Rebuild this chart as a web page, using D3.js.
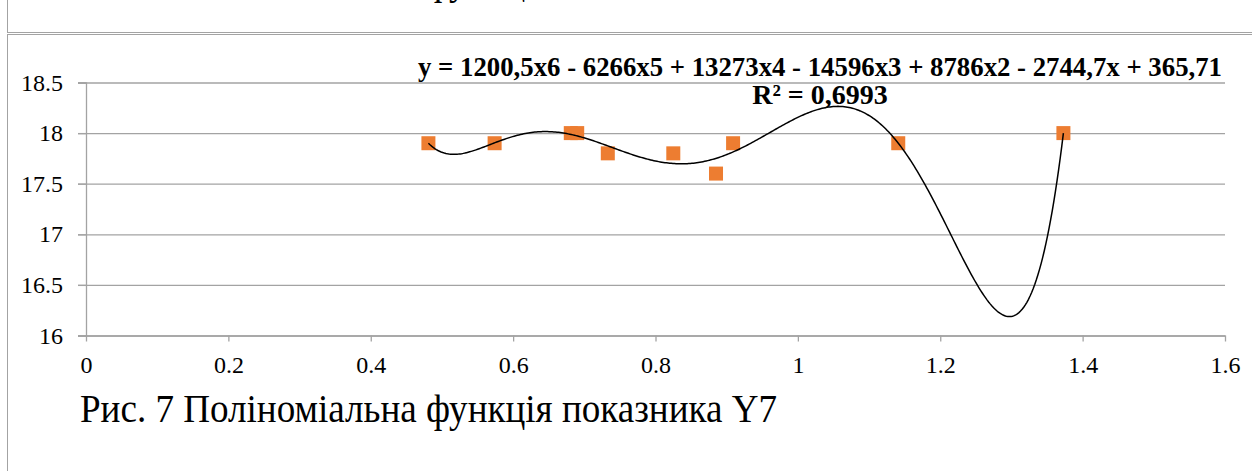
<!DOCTYPE html>
<html>
<head>
<meta charset="utf-8">
<script src="https://cdn.jsdelivr.net/npm/d3@7"></script>
<style>
  html, body { margin: 0; padding: 0; background: #fff; }
  svg { display: block; }
  text { font-family: "Liberation Serif", "Times New Roman", Tinos, "DejaVu Serif", serif; fill: #000; }
</style>
</head>
<body>
<svg id="chart" width="1252" height="471"></svg>
<script>
// Observed values of indicator Y7
const xValues = [0.481, 0.574, 0.681, 0.690, 0.733, 0.825, 0.885, 0.909, 1.141, 1.373];
const yValues = [17.9, 17.9, 18.0, 18.0, 17.8, 17.8, 17.6, 17.9, 17.9, 18.0];

// Axis ticks
const xTicks = [0, 0.2, 0.4, 0.6, 0.8, 1, 1.2, 1.4, 1.6];
const yTicks = [16, 16.5, 17, 17.5, 18, 18.5];

// Texts
const equationText = "y = 1200,5x6 - 6266x5 + 13273x4 - 14596x3 + 8786x2 - 2744,7x + 365,71";
const r2Text = "R² = 0,6993";
const captionText = "Рис. 7 Поліноміальна функція показника Y7";
const prevCaptionText = "Рис. 6 Поліноміальна функція показника Y6";

const polyDegree = 6;
const serif = '"Liberation Serif", "Times New Roman", Tinos, "DejaVu Serif", serif';

const svg = d3.select("#chart");
const gridColor = "#a3a3a3";

const x = d3.scaleLinear().domain([0, 1.6]).range([86, 1225]);
const y = d3.scaleLinear().domain([16, 18.5]).range([335.5, 82.5]);

// Table cell borders around the figure
svg.append("text")
  .attr("x", 80).attr("y", -6)
  .attr("font-size", 40)
  .attr("textLength", 697).attr("lengthAdjust", "spacingAndGlyphs")
  .text(prevCaptionText);
svg.append("line").attr("x1", 7).attr("x2", 1252).attr("y1", 32.5).attr("y2", 32.5)
  .attr("stroke", gridColor).attr("stroke-width", 1);
svg.append("line").attr("x1", 7).attr("x2", 1252).attr("y1", 34.5).attr("y2", 34.5)
  .attr("stroke", gridColor).attr("stroke-width", 1);
svg.append("line").attr("x1", 7.5).attr("x2", 7.5).attr("y1", 0).attr("y2", 32.5)
  .attr("stroke", gridColor).attr("stroke-width", 1);
svg.append("line").attr("x1", 7.5).attr("x2", 7.5).attr("y1", 34.5).attr("y2", 471)
  .attr("stroke", gridColor).attr("stroke-width", 1);

// Horizontal gridlines
const grid = svg.append("g")
  .attr("transform", `translate(78,0)`)
  .call(d3.axisRight(y).tickValues(yTicks).tickSize(x(1.6) - 78).tickFormat(""));
grid.select(".domain").remove();
grid.selectAll(".tick line").attr("stroke", gridColor).attr("stroke-width", 1.3);

// Y axis
const yAxis = svg.append("g")
  .attr("transform", `translate(${x(0)},0)`)
  .call(d3.axisLeft(y).tickValues(yTicks).tickSize(8).tickPadding(15).tickFormat(d3.format("")));
yAxis.attr("font-family", serif);
yAxis.select(".domain").attr("stroke", gridColor).attr("stroke-width", 1.3);
yAxis.selectAll(".tick line").attr("stroke", gridColor).attr("stroke-width", 1.3);
yAxis.selectAll(".tick text").attr("font-size", 24).style("font-family", serif).attr("fill", "#000");

// X axis
const xAxis = svg.append("g")
  .attr("transform", `translate(0,${y(16)})`)
  .call(d3.axisBottom(x).tickValues(xTicks).tickSizeInner(6).tickSizeOuter(0).tickPadding(14).tickFormat(d3.format("")));
xAxis.attr("font-family", serif);
xAxis.select(".domain").attr("stroke", gridColor).attr("stroke-width", 1.3);
xAxis.selectAll(".tick line").attr("stroke", gridColor).attr("stroke-width", 1.3);
xAxis.selectAll(".tick text").attr("font-size", 24).style("font-family", serif).attr("fill", "#000");

// Data markers
const pts = xValues.map((v, i) => ({ x: v, y: yValues[i] }));
const size = 14;
svg.append("g").selectAll("rect").data(pts).join("rect")
  .attr("x", d => x(d.x) - size / 2)
  .attr("y", d => y(d.y) - size / 2)
  .attr("width", size).attr("height", size)
  .attr("fill", "#ED7D31");

// Least-squares polynomial trendline (degree 6)
function polyFit(xs, ys, deg) {
  const c = d3.mean(xs), s = (d3.max(xs) - d3.min(xs)) / 2;
  const n = deg + 1;
  const A = Array.from({ length: n }, () => new Array(n + 1).fill(0));
  xs.forEach((xv, k) => {
    const t = (xv - c) / s;
    const p = [];
    for (let i = 0; i < n; i++) p.push(Math.pow(t, i));
    for (let i = 0; i < n; i++) {
      for (let j = 0; j < n; j++) A[i][j] += p[i] * p[j];
      A[i][n] += p[i] * ys[k];
    }
  });
  for (let col = 0; col < n; col++) {
    let piv = col;
    for (let r = col + 1; r < n; r++) if (Math.abs(A[r][col]) > Math.abs(A[piv][col])) piv = r;
    [A[col], A[piv]] = [A[piv], A[col]];
    for (let r = 0; r < n; r++) {
      if (r === col) continue;
      const f = A[r][col] / A[col][col];
      for (let j = col; j <= n; j++) A[r][j] -= f * A[col][j];
    }
  }
  const coef = A.map((row, i) => row[n] / row[i]);
  return xv => {
    const t = (xv - c) / s;
    let v = 0;
    for (let i = n - 1; i >= 0; i--) v = v * t + coef[i];
    return v;
  };
}
const fit = polyFit(xValues, yValues, polyDegree);
const [xmin, xmax] = d3.extent(xValues);
const curve = d3.range(0, 401).map(i => {
  const xv = xmin + (xmax - xmin) * i / 400;
  return [xv, fit(xv)];
});
svg.append("path")
  .datum(curve)
  .attr("fill", "none")
  .attr("stroke", "#000")
  .attr("stroke-width", 1.5)
  .attr("d", d3.line().x(d => x(d[0])).y(d => y(d[1])));

// Trendline label
svg.append("text")
  .attr("x", 820).attr("y", 76)
  .attr("text-anchor", "middle")
  .attr("font-size", 28).attr("font-weight", "bold")
  .attr("textLength", 804).attr("lengthAdjust", "spacingAndGlyphs")
  .text(equationText);
svg.append("text")
  .attr("x", 820).attr("y", 104)
  .attr("text-anchor", "middle")
  .attr("font-size", 28).attr("font-weight", "bold")
  .text(r2Text);

// Caption
svg.append("text")
  .attr("x", 80).attr("y", 422)
  .attr("font-size", 40)
  .attr("textLength", 697).attr("lengthAdjust", "spacingAndGlyphs")
  .text(captionText);
</script>
</body>
</html>
